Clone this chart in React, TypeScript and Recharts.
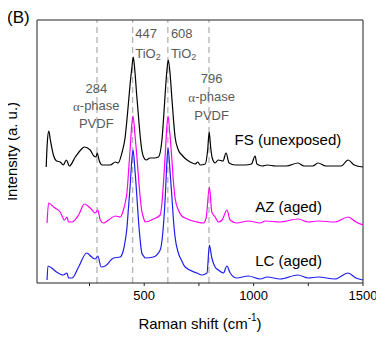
import {
  Label,
  Line,
  LineChart,
  ReferenceDot,
  ReferenceLine,
  XAxis,
  YAxis,
} from 'recharts'

// Raman spectra, stacked with an offset (arbitrary units)
const fsShift = [52, 57, 64, 71, 85, 100, 116, 130, 144, 158, 185, 210, 226, 253, 270, 280, 285, 295, 308, 345, 368, 381, 398, 413, 421, 428, 436, 444, 450, 457, 465, 474, 482, 489, 497, 509, 527, 546, 565, 581, 588, 596, 604, 610, 618, 626, 634, 641, 656, 672, 690, 710, 733, 745, 756, 779, 790, 797, 804, 811, 824, 838, 860, 874, 888, 916, 961, 990, 1007, 1015, 1040, 1062, 1100, 1150, 1203, 1230, 1270, 1295, 1330, 1400, 1432, 1460, 1500]
const fsCounts = [116, 140, 152, 143, 128, 122, 121, 118, 123, 117, 126, 133, 136, 133, 127, 126, 130, 122, 118, 118, 121, 120, 130, 146, 163, 180, 200, 216, 226, 213, 190, 166, 146, 133, 126, 123, 125, 125, 126, 143, 163, 190, 213, 223, 210, 186, 163, 146, 133, 128, 124, 121, 119, 121, 118, 119, 133, 151, 135, 125, 120, 123, 122, 130, 120, 118, 118, 119, 127, 119, 117, 118, 117, 117, 120, 117, 117, 120, 117, 117, 123, 118, 116]

const azShift = [56, 63, 86, 116, 136, 147, 154, 170, 200, 227, 253, 276, 288, 299, 314, 337, 368, 390, 405, 413, 421, 428, 436, 443, 449, 457, 466, 474, 482, 489, 497, 505, 542, 573, 581, 588, 596, 603, 609, 617, 626, 634, 641, 656, 672, 687, 741, 771, 783, 798, 809, 824, 839, 856, 878, 893, 923, 976, 1030, 1053, 1121, 1203, 1249, 1295, 1372, 1432, 1468, 1500]
const azCounts = [60, 80, 76, 71, 63, 66, 61, 61, 68, 79, 75, 70, 73, 63, 60, 63, 67, 66, 73, 80, 90, 110, 135, 158, 167, 150, 128, 105, 85, 72, 65, 61, 64, 68, 80, 100, 128, 155, 167, 150, 125, 100, 85, 73, 67, 65, 61, 60, 65, 96, 71, 66, 61, 63, 73, 63, 60, 62, 60, 62, 61, 64, 61, 62, 61, 66, 61, 58]

const lcShift = [56, 60, 77, 99, 130, 147, 154, 170, 200, 237, 260, 276, 288, 303, 322, 360, 390, 405, 413, 421, 428, 436, 443, 449, 457, 466, 474, 482, 489, 497, 505, 542, 573, 581, 588, 596, 603, 609, 617, 626, 634, 641, 656, 672, 687, 741, 764, 787, 798, 809, 824, 839, 862, 878, 893, 923, 976, 1030, 1062, 1121, 1203, 1249, 1295, 1372, 1432, 1468, 1500]
const lcCounts = [3, 17, 15, 11, 8, 10, 5, 5, 16, 30, 26, 24, 27, 16, 17, 25, 26, 33, 42, 55, 75, 98, 122, 133, 115, 88, 62, 42, 30, 27, 25, 26, 33, 42, 58, 85, 118, 135, 115, 88, 62, 46, 30, 22, 16, 10, 8, 10, 38, 25, 16, 13, 10, 17, 10, 5, 7, 4, 6, 4, 8, 5, 6, 4, 10, 5, 3]

const bandLines = [284, 447, 608, 796]
const xTicks = [250, 500, 750, 1000, 1250, 1500]
const xLabelled = [500, 1000, 1500]

const toPoints = (xs: number[], ys: number[]) => xs.map((x, i) => ({ x, y: ys[i] }))

const fsData = toPoints(fsShift, fsCounts)
const azData = toPoints(azShift, azCounts)
const lcData = toPoints(lcShift, lcCounts)

const font = 'Liberation Sans, Arial, sans-serif'
const grey = '#5a5a5a'
const frame = '#222'

// text annotations placed in data coordinates
const note = (lines: any[], anchor: string, color: string, size: number, gap: number) =>
  (props: any) => {
    const vb = props.viewBox || {}
    const cx = (vb.x ?? 0) + (vb.width ?? 0) / 2
    const cy = (vb.y ?? 0) + (vb.height ?? 0) / 2
    return (
      <g>
        {lines.map((l, i) => (
          <text
            key={i}
            x={cx}
            y={cy + i * gap}
            textAnchor={anchor}
            dominantBaseline='central'
            fontFamily={font}
            fontSize={size}
            fill={color}>
            {l}
          </text>
        ))}
      </g>
    )
  }

const alpha = (
  <>
    <tspan fontFamily='Liberation Serif, Times New Roman, serif'>α</tspan>-phase
  </>
)
const tio2 = (
  <>
    TiO<tspan fontSize={9} dy={4}>2</tspan>
  </>
)

const App = () => {
  return (
    <div
      style={{
        margin: '-8px 0 -8px -8px',
        position: 'relative',
        width: 384,
        height: 345,
        overflow: 'hidden',
      }}>
      <div
        style={{
          position: 'absolute',
          left: 7,
          top: 8,
          lineHeight: '20px',
          fontFamily: font,
          fontSize: 17,
          color: '#000',
        }}>
        (B)
      </div>
      <LineChart
        width={384}
        height={345}
        margin={{ top: 20, right: 21, bottom: 32, left: 0 }}>
        <XAxis
          type='number'
          dataKey='x'
          domain={[10, 1500]}
          ticks={xTicks}
          allowDataOverflow
          tickSize={3}
          tickMargin={5}
          height={30}
          stroke={frame}
          tick={{ fill: '#000', fontSize: 13, fontFamily: font }}
          tickFormatter={(v) => (xLabelled.includes(v) ? String(v) : '')}>
          <Label
            content={(props: any) => {
              const vb = props.viewBox
              return (
                <text
                  x={vb.x + vb.width / 2}
                  y={vb.y + 40}
                  textAnchor='middle'
                  dominantBaseline='central'
                  fontFamily={font}
                  fontSize={15}
                  fill='#000'>
                  Raman shift (cm<tspan fontSize={10} dy={-6}>-1</tspan>
                  <tspan dy={6}>)</tspan>
                </text>
              )
            }}
          />
        </XAxis>
        <YAxis
          type='number'
          domain={[0, 263]}
          allowDataOverflow
          width={37}
          tick={false}
          tickLine={false}
          stroke={frame}>
          <Label
            content={(props: any) => {
              const vb = props.viewBox
              const x = vb.x + 11
              const y = vb.y + vb.height / 2
              return (
                <text
                  x={x}
                  y={y}
                  transform={`rotate(-90 ${x} ${y})`}
                  textAnchor='middle'
                  dominantBaseline='central'
                  fontFamily={font}
                  fontSize={15}
                  fill='#000'>
                  Intensity (a. u.)
                </text>
              )
            }}
          />
        </YAxis>
        {bandLines.map((b) => (
          <ReferenceLine
            key={b}
            x={b}
            stroke='#b4b4b4'
            strokeWidth={1.3}
            strokeDasharray='6 4'
          />
        ))}
        {/* top and right edges of the plot box */}
        <ReferenceLine y={263} stroke={frame} strokeWidth={1} ifOverflow='visible' />
        <ReferenceLine x={1500} stroke={frame} strokeWidth={1} ifOverflow='visible' />
        <Line
          data={fsData}
          dataKey='y'
          type='monotone'
          stroke='#000'
          strokeWidth={1.2}
          dot={false}
          isAnimationActive={false}
        />
        <Line
          data={azData}
          dataKey='y'
          type='monotone'
          stroke='#ff00ff'
          strokeWidth={1.2}
          dot={false}
          isAnimationActive={false}
        />
        <Line
          data={lcData}
          dataKey='y'
          type='monotone'
          stroke='#1e1eee'
          strokeWidth={1.2}
          dot={false}
          isAnimationActive={false}
        />
        <ReferenceDot x={459} y={250} r={0} fill='none' stroke='none'
          label={{ content: note(['447', tio2], 'start', grey, 13, 20) }} />
        <ReferenceDot x={622} y={250} r={0} fill='none' stroke='none'
          label={{ content: note(['608', tio2], 'start', grey, 13, 20) }} />
        <ReferenceDot x={281} y={195} r={0} fill='none' stroke='none'
          label={{ content: note(['284', alpha, 'PVDF'], 'middle', grey, 13, 17.5) }} />
        <ReferenceDot x={808} y={205} r={0} fill='none' stroke='none'
          label={{ content: note(['796', alpha, 'PVDF'], 'middle', grey, 13, 18.5) }} />
        <ReferenceDot x={1157} y={144} r={0} fill='none' stroke='none'
          label={{ content: note(['FS (unexposed)'], 'middle', '#000', 15, 0) }} />
        <ReferenceDot x={1160} y={77} r={0} fill='none' stroke='none'
          label={{ content: note(['AZ (aged)'], 'middle', '#000', 15, 0) }} />
        <ReferenceDot x={1160} y={23} r={0} fill='none' stroke='none'
          label={{ content: note(['LC (aged)'], 'middle', '#000', 15, 0) }} />
      </LineChart>
    </div>
  )
}

export default App
